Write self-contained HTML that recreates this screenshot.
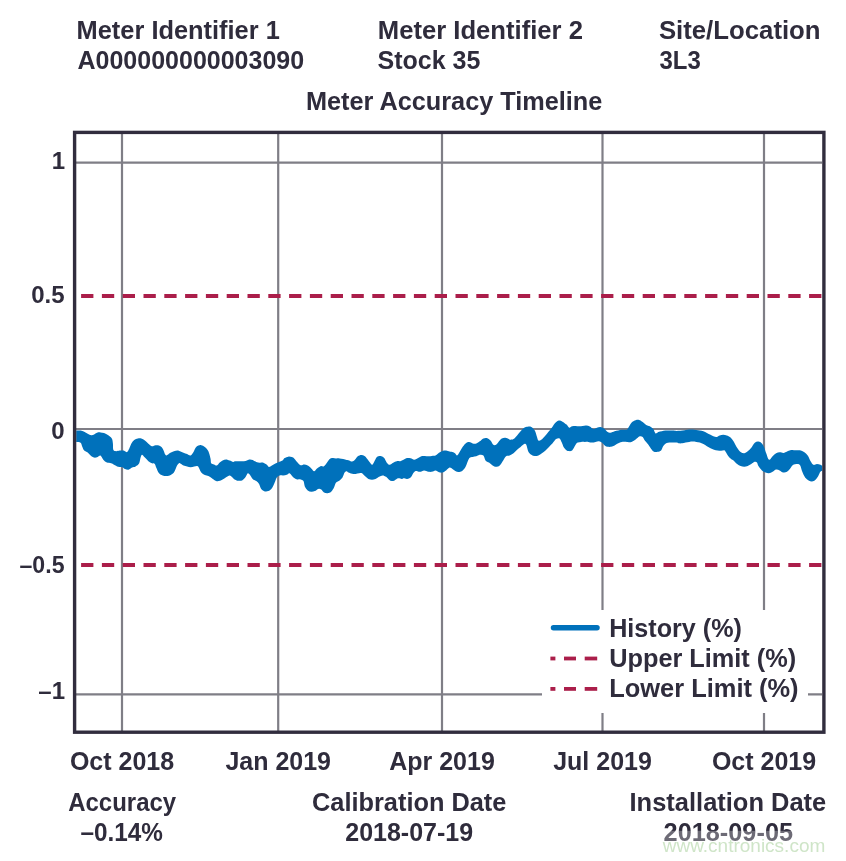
<!DOCTYPE html>
<html><head><meta charset="utf-8"><title>Meter Accuracy Timeline</title>
<style>
html,body{margin:0;padding:0;background:#fff;}
body{width:846px;height:861px;overflow:hidden;position:relative;}
svg{position:absolute;left:0;top:0;display:block;}
text{font-family:"Liberation Sans",Arial,sans-serif;font-weight:bold;fill:#2f2c3c;}
</style></head><body>
<svg width="846" height="861" viewBox="0 0 846 861">
<defs><clipPath id="plot"><rect x="76.2" y="133.6" width="746" height="596.5"/></clipPath>
<linearGradient id="wm" x1="0" y1="0" x2="0" y2="1">
<stop offset="0" stop-color="#fff" stop-opacity="0"/><stop offset="0.5" stop-color="#fff" stop-opacity="0.35"/><stop offset="1" stop-color="#fff" stop-opacity="0.55"/></linearGradient>
</defs>
<g stroke="#7f7e86" stroke-width="2.2"><line x1="122" y1="133" x2="122" y2="731" /><line x1="278.2" y1="133" x2="278.2" y2="731" /><line x1="442" y1="133" x2="442" y2="731" /><line x1="602.5" y1="133" x2="602.5" y2="731" /><line x1="764" y1="133" x2="764" y2="731" /><line x1="76" y1="162.7" x2="822" y2="162.7" /><line x1="76" y1="429" x2="822" y2="429" /><line x1="76" y1="694.3" x2="822" y2="694.3" /></g>
<g stroke="#ab1e4a" stroke-width="4" stroke-dasharray="12.3 8.5">
<line x1="81.1" y1="296" x2="822" y2="296"/>
<line x1="81.1" y1="565" x2="822" y2="565"/>
</g>
<path clip-path="url(#plot)" fill="#0071bb" d="M74.0,430.6C74.4,430.6 75.3,430.6 76.4,430.6C77.5,430.6 79.3,430.4 80.6,430.6C81.9,430.8 83.0,431.2 84.2,431.7C85.4,432.2 86.5,433.2 87.7,433.8C88.9,434.4 90.2,435.1 91.3,435.2C92.4,435.3 93.1,434.9 94.1,434.5C95.0,434.1 95.9,433.2 97.0,432.8C98.1,432.4 99.3,432.3 100.5,432.4C101.7,432.4 102.7,432.6 104.0,433.1C105.3,433.6 107.0,434.3 108.3,435.2C109.6,436.1 111.0,437.0 111.8,438.4C112.6,439.8 112.7,441.5 112.9,443.4C113.2,445.3 112.8,448.5 113.3,449.8C113.8,451.1 115.0,451.1 116.1,451.2C117.1,451.3 118.4,450.6 119.6,450.5C120.8,450.4 122.3,450.4 123.2,450.5C124.1,450.6 124.3,450.9 125.0,451.2C125.7,451.4 126.4,452.5 127.1,452.0C127.8,451.5 128.6,449.8 129.3,448.4C130.0,447.0 130.6,444.8 131.4,443.4C132.2,442.0 133.1,440.7 134.2,439.9C135.3,439.1 136.6,438.7 137.8,438.5C139.0,438.3 140.1,438.1 141.3,438.5C142.5,438.9 143.7,439.7 144.9,440.6C146.1,441.5 147.2,442.9 148.4,443.8C149.6,444.8 150.8,446.1 152.0,446.3C153.2,446.5 154.3,445.3 155.5,445.2C156.7,445.1 157.8,445.1 159.0,445.6C160.2,446.1 161.5,446.9 162.6,448.4C163.7,449.9 164.6,453.7 165.4,454.8C166.2,455.9 166.8,455.2 167.6,454.8C168.4,454.4 169.3,453.3 170.4,452.7C171.5,452.1 172.7,451.6 173.9,451.2C175.1,450.8 176.5,450.5 177.5,450.5C178.5,450.5 179.0,450.9 180.0,451.3C181.0,451.7 182.3,452.2 183.5,452.7C184.7,453.2 185.9,453.6 187.1,454.1C188.3,454.6 189.5,455.9 190.6,455.5C191.7,455.1 192.7,453.3 193.5,452.0C194.3,450.7 194.8,448.8 195.6,447.7C196.4,446.6 197.4,446.0 198.4,445.6C199.4,445.2 200.2,445.0 201.3,445.2C202.4,445.4 203.6,446.0 204.8,447.0C206.0,448.0 207.5,449.4 208.4,451.3C209.3,453.2 210.0,456.4 210.5,458.4C211.0,460.4 210.6,462.3 211.2,463.3C211.8,464.3 213.1,464.0 214.0,464.4C214.9,464.8 216.0,465.8 216.9,465.5C217.8,465.2 218.8,463.4 219.7,462.6C220.6,461.8 221.5,461.0 222.6,460.5C223.7,460.0 224.9,459.4 226.1,459.4C227.3,459.4 228.4,460.1 229.6,460.5C230.8,460.9 232.3,461.8 233.2,461.9C234.1,462.0 234.1,461.4 235.0,461.3C235.9,461.2 237.3,461.3 238.5,461.3C239.7,461.3 240.9,461.4 242.1,461.3C243.3,461.2 244.4,461.2 245.6,460.9C246.8,460.6 248.0,459.7 249.2,459.5C250.4,459.3 251.5,459.5 252.7,459.9C253.9,460.3 255.1,461.5 256.3,462.0C257.5,462.5 258.6,462.6 259.8,462.7C261.0,462.8 262.2,462.3 263.4,462.7C264.6,463.1 266.0,464.1 266.9,464.8C267.8,465.5 268.2,466.9 269.0,467.0C269.8,467.1 270.8,466.1 271.9,465.5C273.0,464.9 274.2,464.0 275.4,463.4C276.6,462.8 277.8,462.5 279.0,462.0C280.2,461.5 281.6,461.2 282.5,460.6C283.4,460.0 283.7,458.8 284.6,458.1C285.6,457.5 287.3,456.9 288.2,456.7C289.1,456.5 289.1,456.5 290.0,456.7C290.9,456.9 292.3,456.8 293.5,457.7C294.7,458.6 295.9,460.8 297.1,462.0C298.3,463.2 299.4,464.8 300.6,465.2C301.8,465.6 303.0,464.4 304.2,464.5C305.4,464.6 306.5,464.9 307.7,465.5C308.9,466.1 310.2,467.4 311.3,468.4C312.4,469.3 313.2,471.2 314.1,471.2C315.1,471.2 315.9,469.2 317.0,468.4C318.1,467.6 319.3,466.6 320.5,466.2C321.7,465.8 322.9,466.8 324.0,466.2C325.1,465.6 325.9,463.9 326.9,462.7C327.8,461.5 328.8,459.9 329.7,459.1C330.6,458.3 331.5,458.2 332.6,458.1C333.7,458.0 334.9,458.3 336.1,458.4C337.3,458.4 338.4,458.3 339.6,458.4C340.8,458.5 342.0,458.9 343.2,459.1C344.4,459.4 345.8,459.7 346.7,459.9C347.6,460.1 347.6,459.9 348.5,460.2C349.4,460.5 351.0,461.7 352.1,461.6C353.2,461.5 353.9,460.7 354.9,459.8C355.8,458.9 356.7,457.1 357.8,456.3C358.9,455.5 360.1,454.9 361.3,454.9C362.5,454.9 363.7,455.4 364.9,456.3C366.1,457.2 367.2,459.1 368.4,460.5C369.6,461.9 371.1,464.6 372.0,464.8C372.9,465.1 373.3,463.3 374.1,462.0C374.9,460.7 375.8,458.0 376.9,457.0C378.0,456.0 379.3,455.8 380.5,455.9C381.7,456.0 382.9,456.6 384.0,457.7C385.1,458.8 385.9,461.5 386.8,462.7C387.8,463.9 388.6,464.8 389.7,464.8C390.8,464.8 392.0,463.3 393.2,462.7C394.4,462.1 395.6,461.4 396.8,461.2C398.0,460.9 399.2,461.4 400.3,461.2C401.4,461.0 402.4,460.3 403.5,459.8C404.6,459.3 405.9,458.2 407.1,458.0C408.3,457.8 409.4,458.0 410.6,458.3C411.8,458.6 413.0,459.8 414.2,459.8C415.4,459.8 416.5,458.9 417.7,458.3C418.9,457.7 420.1,456.6 421.3,456.2C422.5,455.8 423.6,455.9 424.8,455.9C426.0,455.9 427.2,456.2 428.4,456.2C429.6,456.2 430.7,456.0 431.9,455.9C433.1,455.8 434.3,456.0 435.5,455.5C436.7,455.0 437.8,453.5 439.0,452.7C440.2,451.9 441.4,451.3 442.6,450.9C443.8,450.5 444.9,450.4 446.1,450.5C447.3,450.6 448.4,451.3 449.6,451.6C450.8,451.9 452.3,452.0 453.2,452.3C454.1,452.6 454.4,452.8 455.0,453.3C455.6,453.8 456.4,455.6 457.1,455.5C457.8,455.4 458.5,453.9 459.3,452.6C460.1,451.3 461.1,449.2 462.1,447.7C463.2,446.2 464.4,444.3 465.6,443.4C466.8,442.4 468.0,442.0 469.2,442.0C470.4,442.0 471.5,443.2 472.7,443.4C473.9,443.6 475.1,443.8 476.3,443.4C477.5,443.0 478.6,442.1 479.8,441.3C481.0,440.5 482.2,438.9 483.4,438.4C484.6,437.9 485.7,437.7 486.9,438.1C488.1,438.5 489.4,439.5 490.5,440.6C491.6,441.7 492.4,444.1 493.3,444.8C494.2,445.5 495.2,445.4 496.1,444.8C497.1,444.2 498.1,442.4 499.0,441.3C499.9,440.2 500.7,439.0 501.8,438.4C502.9,437.8 504.2,437.6 505.4,437.7C506.6,437.8 508.1,438.8 508.9,439.1C509.7,439.5 509.2,439.8 510.0,439.8C510.8,439.8 512.3,439.8 513.5,439.1C514.7,438.4 515.9,436.8 517.1,435.5C518.3,434.2 519.4,432.6 520.6,431.3C521.8,430.0 523.0,428.5 524.2,427.7C525.4,426.9 526.5,426.8 527.7,426.7C528.9,426.6 530.1,426.4 531.3,427.0C532.5,427.6 533.8,428.9 534.8,430.6C535.8,432.3 536.4,435.4 537.0,437.0C537.6,438.6 537.7,440.0 538.4,440.5C539.1,441.0 540.1,440.5 541.2,439.8C542.3,439.1 543.6,437.5 544.8,436.2C546.0,434.9 547.1,433.4 548.3,432.0C549.5,430.6 550.6,429.2 551.8,427.7C553.0,426.2 554.2,424.0 555.4,422.8C556.6,421.6 557.7,420.8 558.9,420.6C560.1,420.4 561.3,421.1 562.5,421.7C563.7,422.3 565.2,423.7 566.0,424.2C566.8,424.7 566.6,424.3 567.1,424.9C567.6,425.5 568.5,427.5 569.3,427.7C570.1,427.9 571.0,426.6 572.1,426.3C573.2,426.0 574.4,425.9 575.6,425.9C576.8,425.9 578.0,426.3 579.2,426.3C580.4,426.3 581.5,426.0 582.7,425.9C583.9,425.8 585.1,425.5 586.3,425.6C587.5,425.7 588.6,426.0 589.8,426.6C591.0,427.2 592.2,428.9 593.4,429.1C594.6,429.3 595.7,428.1 596.9,427.7C598.1,427.3 599.3,426.9 600.5,427.0C601.7,427.1 602.8,427.6 604.0,428.4C605.2,429.2 606.5,431.3 607.6,432.0C608.7,432.7 609.2,432.8 610.4,432.7C611.6,432.6 613.3,431.6 614.6,431.2C615.9,430.8 617.0,430.7 618.2,430.5C619.4,430.3 620.6,429.9 621.7,429.8C622.8,429.7 624.1,429.9 625.0,429.8C625.9,429.8 626.4,430.1 627.1,429.5C627.8,428.9 628.4,427.6 629.2,426.3C630.0,425.1 631.0,423.0 632.1,422.0C633.2,421.0 634.4,420.6 635.6,420.2C636.8,419.8 637.9,419.6 639.1,419.9C640.3,420.2 641.5,421.2 642.7,422.0C643.9,422.8 645.0,424.2 646.2,424.9C647.4,425.6 648.6,425.6 649.8,426.3C651.0,427.0 652.3,427.9 653.3,429.1C654.2,430.3 654.7,432.9 655.5,433.4C656.3,433.9 657.2,432.4 658.3,432.0C659.3,431.6 660.6,431.4 661.8,431.2C663.0,430.9 664.1,430.6 665.4,430.5C666.7,430.4 668.3,430.5 669.6,430.5C670.9,430.5 672.0,430.4 673.2,430.5C674.4,430.6 675.2,430.9 676.7,430.9C678.2,430.9 680.6,430.8 682.1,430.6C683.6,430.4 684.4,430.1 685.6,429.9C686.8,429.7 688.0,429.6 689.2,429.5C690.4,429.4 691.5,429.4 692.7,429.5C693.9,429.6 695.1,429.7 696.3,429.9C697.5,430.1 698.6,430.4 699.8,430.6C701.0,430.8 702.2,430.9 703.4,431.3C704.6,431.7 705.7,432.4 706.9,433.0C708.1,433.6 709.3,434.2 710.5,434.8C711.7,435.4 713.0,436.2 714.0,436.6C715.0,437.0 715.8,437.2 716.8,437.0C717.8,436.8 718.6,435.9 719.7,435.5C720.8,435.1 722.0,434.8 723.2,434.8C724.4,434.8 725.6,435.1 726.8,435.5C728.0,435.9 729.2,436.3 730.3,437.3C731.4,438.3 732.4,439.6 733.5,441.3C734.6,443.0 735.9,445.9 737.1,447.7C738.3,449.5 739.4,451.0 740.6,451.9C741.8,452.8 743.0,453.4 744.2,453.3C745.4,453.2 746.5,452.1 747.7,451.2C748.9,450.3 750.1,449.1 751.3,447.7C752.5,446.3 753.6,443.7 754.8,442.7C756.0,441.7 757.2,441.5 758.4,441.6C759.6,441.7 761.0,442.5 761.9,443.4C762.8,444.3 763.3,445.4 764.0,447.0C764.7,448.6 765.4,451.2 766.2,453.3C767.0,455.4 767.9,459.2 769.0,459.7C770.1,460.2 771.4,457.3 772.6,456.2C773.8,455.1 774.9,453.9 776.1,453.3C777.3,452.7 778.4,452.4 779.6,452.3C780.8,452.2 782.3,453.1 783.5,453.0C784.7,452.9 785.9,452.1 787.0,451.6C788.1,451.1 789.2,450.4 790.4,450.2C791.5,450.0 792.7,450.2 793.9,450.2C795.1,450.2 796.2,450.1 797.4,450.2C798.6,450.2 799.7,450.1 800.9,450.5C802.1,450.9 803.2,451.4 804.4,452.3C805.6,453.2 806.9,454.3 807.9,455.8C808.9,457.3 809.7,459.8 810.6,461.3C811.5,462.8 812.4,464.3 813.4,464.8C814.4,465.3 815.7,464.1 816.9,464.1C818.1,464.1 819.4,464.5 820.4,464.8C821.4,465.1 821.9,465.8 822.8,466.2C823.7,466.6 825.5,466.9 826.0,467.0L826.0,470.0C825.5,470.1 823.7,470.1 822.8,470.4C821.9,470.7 821.1,470.9 820.4,471.8C819.6,472.7 819.1,474.7 818.3,476.0C817.5,477.3 816.5,478.9 815.5,479.8C814.5,480.7 813.1,481.4 812.0,481.5C810.9,481.6 809.8,481.2 808.6,480.5C807.5,479.8 806.2,478.8 805.1,477.4C804.0,475.9 803.1,473.8 802.3,471.8C801.5,469.8 801.0,466.8 800.2,465.5C799.4,464.2 798.6,464.2 797.4,464.1C796.2,464.0 794.4,464.1 793.2,464.8C792.0,465.5 791.4,467.1 790.4,468.3C789.4,469.5 788.2,471.1 787.0,471.8C785.8,472.5 784.4,472.7 783.2,472.5C782.0,472.3 780.8,470.9 779.6,470.4C778.4,469.9 777.3,469.4 776.1,469.6C774.9,469.8 773.8,471.2 772.6,471.8C771.4,472.4 770.2,473.1 769.0,473.2C767.8,473.3 766.7,473.0 765.5,472.5C764.3,472.0 763.1,471.5 761.9,470.4C760.7,469.3 759.2,467.4 758.4,466.1C757.6,464.8 757.6,463.3 757.0,462.6C756.4,461.9 755.8,461.6 754.8,461.8C753.8,462.0 752.5,463.3 751.3,464.0C750.1,464.7 748.9,465.6 747.7,466.1C746.5,466.6 745.4,466.8 744.2,466.8C743.0,466.8 741.8,466.6 740.6,466.1C739.4,465.6 738.3,464.9 737.1,464.0C735.9,463.1 734.4,461.1 733.5,460.4C732.6,459.7 732.6,460.3 731.7,459.6C730.8,458.9 729.1,457.3 728.2,456.1C727.3,454.9 726.7,453.6 726.1,452.6C725.5,451.7 725.4,450.7 724.6,450.4C723.8,450.1 722.3,450.8 721.1,450.8C719.9,450.8 718.8,450.6 717.6,450.4C716.4,450.2 715.2,450.0 714.0,449.7C712.8,449.4 711.7,448.9 710.5,448.3C709.3,447.7 708.1,446.9 706.9,446.2C705.7,445.5 704.6,444.6 703.4,444.0C702.2,443.4 701.0,443.0 699.8,442.6C698.6,442.2 697.5,442.1 696.3,441.9C695.1,441.7 693.9,441.6 692.7,441.6C691.5,441.6 690.4,441.7 689.2,441.9C688.0,442.1 686.8,442.4 685.6,442.6C684.4,442.8 683.3,443.2 682.1,443.3C680.9,443.4 679.4,443.4 678.5,443.3C677.6,443.2 677.6,442.7 676.7,442.6C675.8,442.5 674.4,442.6 673.2,442.6C672.0,442.6 670.8,442.5 669.6,442.6C668.4,442.7 667.2,442.7 666.1,443.3C665.0,443.9 664.1,444.9 663.3,446.1C662.5,447.3 662.0,449.4 661.1,450.4C660.2,451.3 658.8,451.6 657.6,451.8C656.4,452.0 655.1,452.3 654.0,451.8C652.9,451.3 652.1,450.2 651.2,449.0C650.3,447.8 649.5,446.1 648.4,444.7C647.3,443.3 645.8,441.8 644.8,440.5C643.8,439.2 643.5,437.6 642.7,436.9C641.9,436.2 640.9,436.0 639.9,436.2C638.9,436.4 638.0,437.6 637.0,438.3C636.0,439.0 635.3,439.9 634.2,440.5C633.1,441.1 631.8,442.0 630.6,442.2C629.4,442.4 628.6,441.9 627.1,441.9C625.6,441.8 623.2,441.7 621.7,441.9C620.2,442.1 619.4,442.7 618.2,443.3C617.0,443.9 615.8,444.8 614.6,445.4C613.4,446.0 612.3,446.6 611.1,446.8C609.9,447.0 608.7,447.0 607.6,446.8C606.5,446.6 605.7,446.1 604.7,445.4C603.8,444.7 602.9,443.3 601.9,442.6C600.9,441.9 600.1,441.3 599.0,441.2C597.9,441.1 596.7,441.7 595.5,441.9C594.3,442.1 593.2,442.6 592.0,442.6C590.8,442.6 589.6,442.0 588.4,441.9C587.2,441.8 586.1,441.9 584.9,441.9C583.7,441.9 582.5,441.8 581.3,441.9C580.1,442.0 578.8,442.1 577.8,442.6C576.8,443.1 576.5,443.4 575.6,444.7C574.7,446.0 573.3,449.3 572.1,450.4C570.9,451.5 569.4,451.1 568.5,451.1C567.6,451.1 567.5,451.0 566.7,450.4C565.9,449.8 564.7,448.9 563.9,447.6C563.1,446.3 562.5,444.1 561.8,442.6C561.1,441.1 560.5,439.0 559.6,438.4C558.7,437.8 557.3,438.3 556.1,439.1C554.9,439.9 553.8,442.0 552.6,443.3C551.4,444.6 550.2,445.7 549.0,446.9C547.8,448.1 546.7,449.3 545.5,450.4C544.3,451.5 543.1,452.5 541.9,453.3C540.7,454.1 539.6,454.9 538.4,455.4C537.2,455.9 536.0,456.2 534.8,456.1C533.6,456.0 532.4,455.4 531.3,454.7C530.2,454.0 529.2,453.4 528.4,451.8C527.6,450.2 527.0,446.1 526.3,444.8C525.6,443.5 525.2,443.6 524.2,444.0C523.2,444.4 521.8,445.9 520.6,446.9C519.4,447.8 518.3,448.6 517.1,449.7C515.9,450.8 514.8,452.3 513.5,453.3C512.2,454.3 510.8,455.0 509.6,455.5C508.4,456.0 507.2,455.4 506.1,456.2C505.0,457.0 504.3,458.9 503.2,460.4C502.1,461.9 500.9,464.3 499.7,465.4C498.5,466.5 497.3,466.8 496.1,466.8C494.9,466.8 493.8,466.1 492.6,465.4C491.4,464.7 490.2,463.4 489.0,462.6C487.8,461.8 486.4,461.6 485.5,460.4C484.6,459.2 484.3,456.4 483.4,455.5C482.4,454.6 481.0,454.7 479.8,454.8C478.6,454.9 477.5,455.9 476.3,456.2C475.1,456.5 473.9,456.5 472.7,456.9C471.5,457.2 470.4,456.6 469.2,458.3C468.0,460.0 466.8,464.7 465.6,466.8C464.4,468.9 463.3,470.2 462.1,471.1C460.9,472.0 459.6,472.1 458.5,472.1C457.4,472.1 456.3,471.6 455.3,471.1C454.3,470.6 453.4,469.6 452.5,469.0C451.6,468.4 450.7,467.4 449.6,467.6C448.5,467.8 447.3,469.6 446.1,470.4C444.9,471.2 443.8,472.2 442.6,472.5C441.4,472.8 440.2,472.6 439.0,472.2C437.8,471.8 436.7,470.5 435.5,470.4C434.3,470.3 433.1,471.6 431.9,471.8C430.7,472.0 429.7,472.0 428.4,471.8C427.1,471.6 425.5,470.4 424.1,470.4C422.7,470.4 421.3,471.7 419.9,471.8C418.5,471.9 416.8,470.8 415.6,471.1C414.4,471.5 413.6,472.8 412.8,473.9C412.0,475.0 411.6,476.7 410.6,477.5C409.7,478.3 408.3,478.8 407.1,478.9C405.9,479.0 404.4,478.2 403.5,478.2C402.6,478.2 402.6,479.0 401.7,479.0C400.8,479.0 399.4,478.1 398.2,478.3C397.0,478.5 395.7,479.9 394.6,480.4C393.5,480.9 392.7,481.2 391.8,481.1C390.9,481.0 389.9,480.4 389.0,479.7C388.1,479.0 387.2,477.5 386.1,476.8C385.0,476.1 383.8,475.4 382.6,475.4C381.4,475.4 380.2,476.2 379.0,476.8C377.8,477.4 376.7,478.5 375.5,479.0C374.3,479.5 373.2,479.7 372.0,479.7C370.8,479.7 369.6,479.6 368.4,479.0C367.2,478.4 366.0,477.1 364.9,476.1C363.8,475.2 362.9,473.8 362.0,473.3C361.1,472.8 360.3,473.2 359.2,473.3C358.1,473.4 356.8,473.9 355.6,474.0C354.4,474.1 353.3,473.9 352.1,473.7C350.9,473.5 349.4,473.0 348.5,472.6C347.6,472.2 347.3,471.2 346.7,471.2C346.1,471.2 345.3,471.5 344.6,472.6C343.9,473.7 343.3,476.3 342.5,477.6C341.7,478.9 340.7,479.6 339.6,480.4C338.5,481.2 337.0,481.4 336.1,482.6C335.2,483.8 334.8,486.0 334.0,487.5C333.2,489.0 332.2,490.9 331.1,491.8C330.0,492.8 328.8,493.1 327.6,493.2C326.4,493.3 325.1,493.1 324.0,492.5C322.9,491.9 322.1,490.2 321.2,489.6C320.3,489.0 319.5,488.6 318.4,488.9C317.3,489.1 316.0,490.6 314.8,491.1C313.6,491.6 312.5,491.9 311.3,491.8C310.1,491.7 308.8,491.2 307.7,490.4C306.6,489.6 305.6,488.4 304.9,486.8C304.2,485.2 304.2,482.3 303.5,481.1C302.8,479.9 301.7,479.7 300.6,479.4C299.5,479.1 298.3,479.7 297.1,479.4C295.9,479.1 294.8,478.6 293.5,477.6C292.2,476.6 290.7,473.8 289.6,473.3C288.5,472.8 287.9,474.4 286.8,474.8C285.7,475.2 284.4,475.4 283.2,475.5C282.0,475.6 280.8,475.1 279.7,475.5C278.6,475.9 277.6,476.4 276.8,477.6C276.0,478.8 275.5,480.8 274.7,482.6C273.9,484.4 273.0,486.8 271.9,488.2C270.8,489.6 269.5,490.6 268.3,491.1C267.1,491.6 266.0,491.8 264.8,491.4C263.6,491.0 262.1,490.1 261.2,488.9C260.2,487.7 259.9,485.3 259.1,484.0C258.3,482.7 257.4,481.9 256.3,481.1C255.2,480.3 253.8,480.1 252.7,479.0C251.6,477.9 250.7,475.8 249.9,474.8C249.1,473.9 248.5,473.0 247.8,473.3C247.1,473.6 246.6,475.7 245.6,476.9C244.6,478.1 243.3,479.8 242.1,480.4C240.9,481.0 239.4,480.8 238.5,480.8C237.6,480.8 237.3,480.6 236.7,480.4C236.0,480.2 235.4,480.2 234.6,479.6C233.8,479.0 232.6,477.5 231.8,476.8C231.0,476.1 230.6,475.3 229.6,475.4C228.6,475.5 227.3,476.5 226.1,477.2C224.9,477.9 223.8,479.0 222.6,479.6C221.4,480.2 220.2,480.9 219.0,481.1C217.8,481.3 216.7,481.2 215.5,480.7C214.3,480.2 213.1,479.0 211.9,478.2C210.7,477.4 209.6,476.6 208.4,476.1C207.2,475.6 206.0,475.6 204.8,475.0C203.6,474.4 202.2,473.7 201.3,472.6C200.4,471.5 199.7,469.4 199.1,468.3C198.5,467.2 198.5,466.5 197.7,466.2C196.9,465.9 195.4,466.3 194.2,466.5C193.0,466.7 191.8,467.2 190.6,467.2C189.4,467.2 188.3,466.8 187.1,466.5C185.9,466.2 184.7,466.0 183.5,465.5C182.3,465.0 180.8,463.7 180.0,463.3C179.2,462.9 179.4,462.8 178.9,463.3C178.4,463.8 177.6,464.6 176.8,466.1C176.0,467.6 175.1,470.9 173.9,472.5C172.7,474.1 171.0,474.8 169.7,475.4C168.4,476.0 167.3,476.1 166.1,476.1C164.9,476.1 163.8,475.9 162.6,475.4C161.4,474.9 160.1,474.5 159.0,473.2C157.9,471.9 156.9,469.1 156.2,467.6C155.5,466.1 155.5,464.7 154.8,464.0C154.1,463.3 153.1,463.8 152.0,463.3C150.9,462.8 149.6,462.1 148.4,461.2C147.2,460.2 146.0,458.7 144.9,457.6C143.8,456.5 142.7,454.8 142.0,454.8C141.3,454.8 141.1,456.2 140.6,457.6C140.1,459.0 140.0,461.8 139.2,463.3C138.4,464.8 136.8,465.8 135.6,466.5C134.4,467.2 133.3,467.1 132.1,467.6C130.9,468.1 129.7,469.5 128.5,469.7C127.3,469.9 126.0,469.4 125.0,469.0C124.0,468.6 123.6,467.6 122.5,467.2C121.4,466.8 119.6,467.2 118.2,466.8C116.8,466.4 115.2,465.3 114.0,464.7C112.8,464.1 112.3,463.6 111.1,463.3C109.9,463.0 108.2,463.2 106.9,462.6C105.6,462.0 104.4,460.9 103.3,459.7C102.2,458.5 101.4,456.0 100.5,455.5C99.6,455.0 98.8,456.5 97.7,456.9C96.6,457.2 95.3,457.8 94.1,457.6C92.9,457.4 91.7,456.3 90.6,455.5C89.5,454.7 88.8,453.4 87.7,452.6C86.6,451.8 85.1,451.4 84.2,450.5C83.3,449.6 83.0,448.3 82.4,447.0C81.8,445.7 81.6,443.5 80.6,442.7C79.6,441.9 77.5,442.1 76.4,442.0C75.3,441.9 74.4,442.0 74.0,442.0Z"/>
<rect x="542" y="610" width="266" height="103" fill="#fff"/>
<line x1="553.5" y1="627.8" x2="597" y2="627.8" stroke="#0071bb" stroke-width="5.5" stroke-linecap="round"/>
<g fill="#ab1e4a">
<rect x="550.4" y="656.6" width="5" height="3.8"/><rect x="564" y="656.6" width="12" height="3.8"/><rect x="584.7" y="656.6" width="12.5" height="3.8"/>
<rect x="550.4" y="687" width="5" height="3.8"/><rect x="564" y="687" width="12" height="3.8"/><rect x="584.7" y="687" width="12.5" height="3.8"/>
</g>
<rect x="74.6" y="132.4" width="749.3" height="599.8" fill="none" stroke="#312d3e" stroke-width="3.4"/>
<text x="76.6" y="38.8" text-anchor="start" font-size="25" textLength="203.2" lengthAdjust="spacingAndGlyphs">Meter Identifier 1</text><text x="77.5" y="68.8" text-anchor="start" font-size="25" >A000000000003090</text><text x="377.8" y="38.8" text-anchor="start" font-size="25" textLength="205.2" lengthAdjust="spacingAndGlyphs">Meter Identifier 2</text><text x="377.6" y="68.8" text-anchor="start" font-size="25" >Stock 35</text><text x="658.9" y="38.8" text-anchor="start" font-size="25" textLength="161.7" lengthAdjust="spacingAndGlyphs">Site/Location</text><text x="659.5" y="68.8" text-anchor="start" font-size="25" textLength="41.3" lengthAdjust="spacingAndGlyphs">3L3</text><text x="305.9" y="110" text-anchor="start" font-size="25" textLength="296.5" lengthAdjust="spacingAndGlyphs">Meter Accuracy Timeline</text><text x="65" y="169" text-anchor="end" font-size="24" >1</text><text x="64.5" y="303" text-anchor="end" font-size="24" >0.5</text><text x="64.5" y="438.5" text-anchor="end" font-size="24" >0</text><text x="64.5" y="573" text-anchor="end" font-size="24" textLength="45" lengthAdjust="spacingAndGlyphs">&#8211;0.5</text><text x="65" y="699.3" text-anchor="end" font-size="24" >&#8211;1</text><text x="122" y="770" text-anchor="middle" font-size="25" >Oct 2018</text><text x="278.2" y="770" text-anchor="middle" font-size="25" >Jan 2019</text><text x="442" y="770" text-anchor="middle" font-size="25" >Apr 2019</text><text x="602.5" y="770" text-anchor="middle" font-size="25" >Jul 2019</text><text x="764" y="770" text-anchor="middle" font-size="25" >Oct 2019</text><text x="122.2" y="810.8" text-anchor="middle" font-size="25" textLength="108" lengthAdjust="spacingAndGlyphs">Accuracy</text><text x="121.7" y="840.8" text-anchor="middle" font-size="25" textLength="82.5" lengthAdjust="spacingAndGlyphs">&#8211;0.14%</text><text x="409.2" y="810.8" text-anchor="middle" font-size="25" textLength="194.3" lengthAdjust="spacingAndGlyphs">Calibration Date</text><text x="409.2" y="840.8" text-anchor="middle" font-size="25" >2018-07-19</text><text x="727.9" y="810.8" text-anchor="middle" font-size="25" textLength="196.7" lengthAdjust="spacingAndGlyphs">Installation Date</text><text x="728.3" y="840.8" text-anchor="middle" font-size="25" textLength="129.5" lengthAdjust="spacingAndGlyphs">2018-09-05</text><text x="609.2" y="637.2" text-anchor="start" font-size="25" textLength="132.7" lengthAdjust="spacingAndGlyphs">History (%)</text><text x="609.2" y="667" text-anchor="start" font-size="25" textLength="187" lengthAdjust="spacingAndGlyphs">Upper Limit (%)</text><text x="609.2" y="696.5" text-anchor="start" font-size="25" textLength="189.4" lengthAdjust="spacingAndGlyphs">Lower Limit (%)</text>
<rect x="655" y="830.8" width="191" height="30.2" fill="#fff" fill-opacity="0.3"/>
<text x="662.7" y="852" font-size="19" style="font-weight:normal;fill:#cfe5c8">www.cntronics.com</text>
</svg>
</body></html>
